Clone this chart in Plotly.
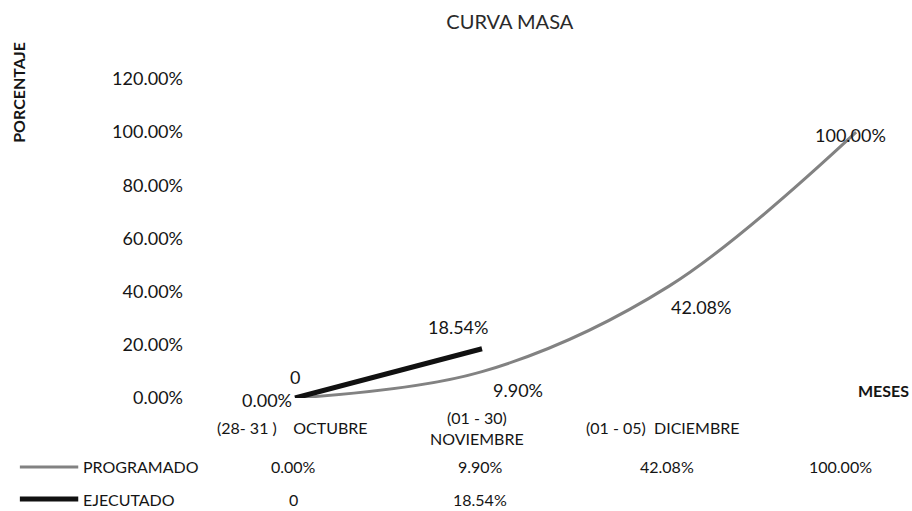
import plotly.graph_objects as go

# =====================================================
# Datos
# =====================================================

categorias = [
    "(28- 31 )    OCTUBRE",
    "(01 - 30)<br>NOVIEMBRE",
    "(01 - 05)  DICIEMBRE",
    "",
]

programado = [0.0, 0.099, 0.4208, 1.0]
programado_txt = ["0.00%", "9.90%", "42.08%", "100.00%"]

ejecutado = [0.0, 0.1854]
ejecutado_txt = ["0", "18.54%"]

y_ticks = [0.0, 0.2, 0.4, 0.6, 0.8, 1.0, 1.2]

FONT = "Lato"
TEXT = "#151515"
GRIS = "#828282"

x_prog = list(range(len(programado)))
x_ejec = list(range(len(ejecutado)))

fig = go.Figure()

fig.add_trace(
    go.Scatter(
        x=x_prog,
        y=programado,
        mode="lines",
        name="PROGRAMADO",
        line=dict(color=GRIS, width=3, shape="spline", smoothing=1.0),
    )
)

fig.add_trace(
    go.Scatter(
        x=x_ejec,
        y=ejecutado,
        mode="lines",
        name="EJECUTADO",
        line=dict(color="#111111", width=5),
    )
)

# =====================================================
# Etiquetas de datos
# =====================================================

prog_shift = [(-28, -2), (36, -18), (32, -21), (-6, -3)]
for i, (v, t) in enumerate(zip(programado, programado_txt)):
    fig.add_annotation(
        x=x_prog[i], y=v, text=t, showarrow=False,
        xshift=prog_shift[i][0], yshift=prog_shift[i][1],
        font=dict(family=FONT, size=18, color=TEXT),
    )

ejec_shift = [(0, 21), (-24, 22)]
for i, (v, t) in enumerate(zip(ejecutado, ejecutado_txt)):
    fig.add_annotation(
        x=x_ejec[i], y=v, text=t, showarrow=False,
        xshift=ejec_shift[i][0], yshift=ejec_shift[i][1],
        font=dict(family=FONT, size=18, color=TEXT),
    )

# =====================================================
# Etiquetas del eje x
# =====================================================

cat_shift = [-3, -5, -6, 0]
for i, c in enumerate(categorias):
    fig.add_annotation(
        x=i, y=-0.093, xref="x", yref="paper", yanchor="middle",
        text=c, showarrow=False, xshift=cat_shift[i],
        font=dict(family=FONT, size=16, color=TEXT),
    )

# =====================================================
# Tabla de datos
# =====================================================

filas = [
    ("PROGRAMADO", programado_txt, GRIS, 3, -0.216),
    ("EJECUTADO", ejecutado_txt, "#111111", 5, -0.317),
]
for nombre, vals, color, ancho, yy in filas:
    fig.add_shape(
        type="line", xref="paper", yref="paper",
        x0=-0.253, x1=-0.171, y0=yy, y1=yy,
        line=dict(color=color, width=ancho),
    )
    fig.add_annotation(
        x=-0.167, y=yy, xref="paper", yref="paper",
        xanchor="left", yanchor="middle", text=nombre, showarrow=False,
        font=dict(family=FONT, size=16, color=TEXT),
    )
    for i, t in enumerate(vals):
        fig.add_annotation(
            x=i, y=yy, xref="x", yref="paper", yanchor="middle",
            text=t, showarrow=False, xshift=(-16 if i == 3 else -2),
            font=dict(family=FONT, size=16, color=TEXT),
        )

# =====================================================
# Titulos de ejes
# =====================================================

fig.add_annotation(
    x=-0.256, y=0.959, xref="paper", yref="paper",
    xanchor="center", yanchor="middle", textangle=-90,
    text="<b>PORCENTAJE</b>", showarrow=False,
    font=dict(family=FONT, size=16, color=TEXT),
)
fig.add_annotation(
    x=0.999, y=0.025, xref="paper", yref="paper",
    xanchor="right", yanchor="middle",
    text="<b>MESES</b>", showarrow=False,
    font=dict(family=FONT, size=16, color=TEXT),
)

fig.update_layout(
    width=912,
    height=511,
    margin=dict(l=200, r=0, t=79, b=113),
    paper_bgcolor="white",
    plot_bgcolor="white",
    showlegend=False,
    title=dict(
        text="CURVA MASA", x=0.559, xanchor="center",
        y=0.957, yanchor="middle",
        font=dict(family=FONT, size=20, color="#2a2a2a"),
    ),
    xaxis=dict(
        range=[-0.508, 3.299],
        showgrid=False, zeroline=False, showline=False,
        showticklabels=False,
    ),
    yaxis=dict(
        range=[0, 1.2],
        tickvals=y_ticks,
        tickformat=".2%",
        showgrid=False, zeroline=False, showline=False,
        ticklabelstandoff=16,
        tickfont=dict(family=FONT, size=18, color=TEXT),
    ),
)

# sin margen del body para que el grafico ocupe toda la ventana
fig.write_html(
    "out.html",
    config={"displayModeBar": False},
    post_script="document.body.style.margin='0';document.body.style.overflow='hidden';",
)
